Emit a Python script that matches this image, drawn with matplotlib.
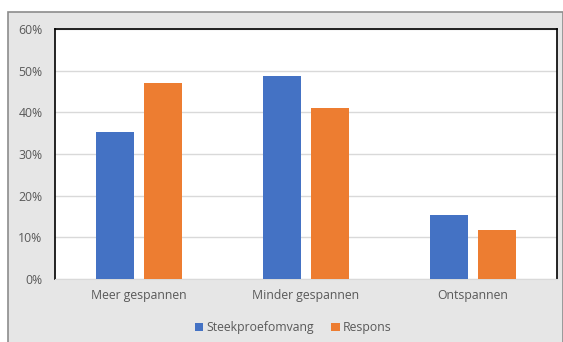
import numpy as np
import matplotlib.pyplot as plt
from matplotlib.patches import Rectangle

categories = ["Meer gespannen", "Minder gespannen", "Ontspannen"]
steekproef = [35.4, 48.8, 15.4]
respons = [47.0, 41.1, 11.7]
series_names = ["Steekproefomvang", "Respons"]
yticks = [0, 10, 20, 30, 40, 50, 60]

plt.rcParams["font.family"] = ["Open Sans", "DejaVu Sans"]

W, H = 563, 342
fig = plt.figure(figsize=(W / 100, H / 100), dpi=100, facecolor="white")

# grey chart panel with a darker edge on top and left (runs off the bottom)
fig.patches.append(Rectangle((8 / W, -0.05), 1 - 8 / W, 1.05 - 12 / H, transform=fig.transFigure,
                             facecolor="#e6e6e6", edgecolor="#8c8c8c", linewidth=1.2, zorder=-5))

ax = fig.add_axes([55 / W, 1 - 279 / H, (556.7 - 55) / W, 250 / H])
ax.set_zorder(2)
ax.set_facecolor("white")

x = np.arange(len(categories))
bw = 0.227
off = 0.1435
ax.bar(x - off, steekproef, bw, color="#4472C4", label=series_names[0], zorder=3)
ax.bar(x + off, respons, bw, color="#ED7D31", label=series_names[1], zorder=3)

ax.set_xlim(-0.5, 2.5)
ax.set_ylim(0, 60)
ax.set_yticks(yticks)
ax.set_yticklabels([f"{t}%" for t in yticks])
ax.set_xticks(x)
ax.set_xticklabels(categories)
ax.grid(axis="y", color="#d9d9d9", linewidth=1, zorder=0)
ax.tick_params(length=0, colors="#595959", labelsize=8.8)
ax.tick_params(axis="y", pad=9)
ax.tick_params(axis="x", pad=7.5)

for s in ["left", "top", "right"]:
    ax.spines[s].set_color("black")
    ax.spines[s].set_linewidth(1.2)
ax.spines["bottom"].set_color("#d9d9d9")

fig.legend(loc="center", bbox_to_anchor=(293.5 / W, 1 - 328 / H), ncol=2, frameon=False,
           fontsize=8.8, labelcolor="#595959", handlelength=0.66, handleheight=0.66,
           handletextpad=0.3, columnspacing=1.4)

fig.savefig("out.png", dpi=100, facecolor="white")
